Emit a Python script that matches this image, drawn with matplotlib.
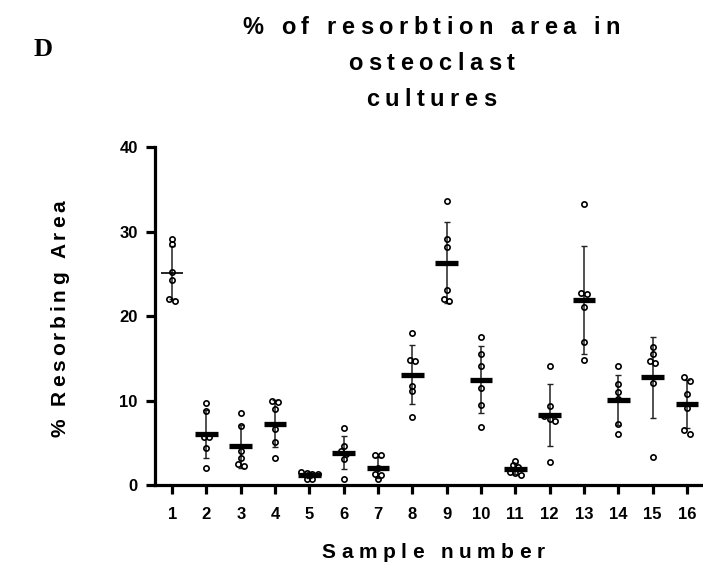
import numpy as np
import matplotlib
matplotlib.use("Agg")
import matplotlib.pyplot as plt
from matplotlib.transforms import IdentityTransform
from matplotlib.font_manager import FontProperties, findfont, get_font

try:
    from matplotlib.ft2font import LoadFlags
    NO_HINT = LoadFlags.NO_HINTING
except ImportError:  # older matplotlib
    from matplotlib.ft2font import LOAD_NO_HINTING as NO_HINT

# ---- data: % resorbing area, six cultures per sample ----
sample_labels = [str(i) for i in range(1, 17)]
sample_01 = [29.2, 28.5, 25.2, 24.3, 22.1, 21.8]
sample_02 = [9.7, 8.8, 5.7, 5.7, 4.4, 2.0]
sample_03 = [8.5, 7.0, 4.1, 3.2, 2.5, 2.3]
sample_04 = [10.0, 9.8, 9.0, 6.7, 5.1, 3.2]
sample_05 = [1.6, 1.5, 1.35, 1.3, 0.75, 0.7]
sample_06 = [6.8, 4.7, 4.1, 3.7, 3.1, 0.8]
sample_07 = [3.6, 3.6, 2.0, 1.3, 1.2, 0.7]
sample_08 = [18.0, 14.8, 14.7, 11.8, 11.2, 8.1]
sample_09 = [33.7, 29.1, 28.2, 23.1, 22.1, 21.8]
sample_10 = [17.5, 15.5, 14.1, 11.5, 9.5, 6.9]
sample_11 = [2.85, 2.4, 2.2, 1.6, 1.5, 1.2]
sample_12 = [14.1, 9.4, 8.2, 7.8, 7.6, 2.7]
sample_13 = [33.3, 22.8, 22.6, 21.1, 17.0, 14.8]
sample_14 = [14.1, 12.0, 11.0, 10.2, 7.3, 6.1]
sample_15 = [16.4, 15.5, 14.7, 14.5, 12.1, 3.4]
sample_16 = [12.8, 12.4, 10.8, 9.2, 6.5, 6.1]

samples = [sample_01, sample_02, sample_03, sample_04, sample_05, sample_06,
           sample_07, sample_08, sample_09, sample_10, sample_11, sample_12,
           sample_13, sample_14, sample_15, sample_16]
y_ticks = [0, 10, 20, 30, 40]

W, H, DPI = 703, 565, 100
fig = plt.figure(figsize=(W / DPI, H / DPI), dpi=DPI)
ax = fig.add_axes([155 / W, (H - 485.3) / H, (W - 155) / W, (485.3 - 147.3) / H])

FAMILY = ["Liberation Sans", "DejaVu Sans"]


def beeswarm_offsets(vals, thresh=0.45, step=0.16):
    """Spread points that would overlap vertically."""
    order = np.argsort(vals)[::-1]
    offs = np.zeros(len(vals))
    groups, cur = [], [order[0]]
    for a, b in zip(order[:-1], order[1:]):
        if abs(vals[a] - vals[b]) < thresh:
            cur.append(b)
        else:
            groups.append(cur)
            cur = [b]
    groups.append(cur)
    for g in groups:
        k = len(g)
        for i, idx in enumerate(g):
            offs[idx] = (i - (k - 1) / 2) * step
    return offs


for i, vals in enumerate(samples):
    x = i + 1
    v = np.asarray(vals, dtype=float)
    m = v.mean()
    sd = v.std(ddof=1)
    ax.errorbar([x], [m], yerr=[sd], fmt="none", ecolor="#222222",
                elinewidth=1.1, capsize=2.0, capthick=1.0, zorder=2)
    ax.hlines(m, x - 0.33, x + 0.33, color="black",
              lw=1.2 if i == 0 else 3.8, zorder=3)
    offs = beeswarm_offsets(v)
    ax.plot(x + offs, v, "o", ms=3.8, mfc="none", mec="black", mew=1.2,
            zorder=4, clip_on=False)

ax.set_xlim(0.5, 16.47)
ax.set_ylim(0, 40)
ax.set_xticks(range(1, 17))
ax.set_xticklabels(sample_labels)
ax.set_yticks(y_ticks)
ax.set_yticklabels([str(t) for t in y_ticks])
for side in ("top", "right"):
    ax.spines[side].set_visible(False)
for side in ("left", "bottom"):
    ax.spines[side].set_linewidth(2.3)
ax.tick_params(axis="both", width=2.3, length=6.5, direction="out")
ax.tick_params(axis="x", pad=9)
ax.tick_params(axis="y", pad=6)
for lab in ax.get_xticklabels() + ax.get_yticklabels():
    lab.set_fontfamily(FAMILY)
    lab.set_fontweight("bold")
    lab.set_fontsize(12)


def advances(text, prop):
    font = get_font(findfont(prop))
    font.set_size(prop.get_size_in_points(), DPI)
    out = []
    for ch in text:
        g = font.load_char(ord(ch), flags=NO_HINT)
        out.append(g.linearHoriAdvance / 65536)
    return out


def spaced_text(cx, cy, text, prop, gap, vertical=False):
    """Letter-spaced text centred on (cx, cy) in pixels; cy/cx is the baseline."""
    adv = advances(text, prop)
    total = sum(adv) + gap * (len(text) - 1)
    pos = -total / 2
    for ch, a in zip(text, adv):
        if ch != " ":
            if vertical:
                fig.text(cx, cy + pos, ch, fontproperties=prop, ha="left",
                         va="baseline", rotation=90, rotation_mode="anchor",
                         transform=IdentityTransform())
            else:
                fig.text(cx + pos, cy, ch, fontproperties=prop, ha="left",
                         va="baseline", transform=IdentityTransform())
        pos += a + gap


title_prop = FontProperties(family=FAMILY, weight="bold", size=17)
for line, base in zip(["% of resorbtion area in", "osteoclast", "cultures"],
                      [34, 70, 106]):
    spaced_text(431, H - base, line, title_prop, 5.5)

label_prop = FontProperties(family=FAMILY, weight="bold", size=15)
spaced_text(433, H - 558, "Sample number", label_prop, 5.5)
spaced_text(65, H - 318.5, "% Resorbing Area", label_prop, 3.8, vertical=True)

fig.text(34, H - 56, "D", fontproperties=FontProperties(
    family=["Liberation Serif", "DejaVu Serif"], weight="bold", size=19),
    ha="left", va="baseline", transform=IdentityTransform())

fig.savefig("out.png", dpi=DPI)
